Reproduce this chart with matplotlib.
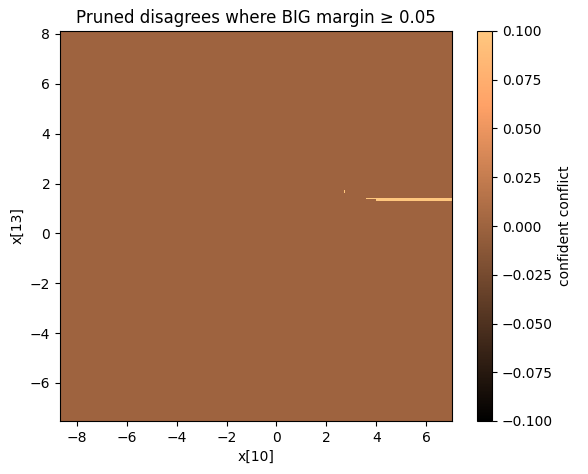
import matplotlib.pyplot as plt
import numpy as np

# plot extent (x[10], x[13])
x_range = [-8.68, 7.04]
y_range = [-7.53, 8.12]

# conflict regions where the pruned model disagrees: (x0, x1, y0, y1)
conflict_x0 = [2.70, 3.58, 3.97]
conflict_x1 = [2.75, 3.97, 7.04]
conflict_y0 = [1.62, 1.36, 1.28]
conflict_y1 = [1.76, 1.41, 1.41]

n = 600
xs = np.linspace(x_range[0], x_range[1], n)
ys = np.linspace(y_range[0], y_range[1], n)
X, Y = np.meshgrid(xs, ys)
Z = np.zeros_like(X)
for x0, x1, y0, y1 in zip(conflict_x0, conflict_x1, conflict_y0, conflict_y1):
    Z[(X >= x0) & (X <= x1) & (Y >= y0) & (Y <= y1)] = 1.0

fig = plt.figure(figsize=(5.88, 4.74), dpi=100)
ax = fig.add_axes([60/588, 53/474, 392/588, 390/474])
cax = fig.add_axes([477/588, 53/474, 15/588, 390/474])

im = ax.imshow(Z, origin="lower", extent=x_range + y_range, aspect="auto",
               cmap="copper", vmin=-0.1, vmax=0.1, interpolation="nearest")
ax.set_xlim(x_range)
ax.set_ylim(y_range)
ax.set_xticks(np.arange(-8, 7, 2))
ax.set_yticks(np.arange(-6, 9, 2))
ax.set_xlabel("x[10]")
ax.set_ylabel("x[13]")
ax.set_title("Pruned disagrees where BIG margin \u2265 0.05")

cb = fig.colorbar(im, cax=cax)
cb.set_ticks(np.linspace(-0.1, 0.1, 9))
cb.set_label("confident conflict")

plt.savefig("out.png", dpi=100)
